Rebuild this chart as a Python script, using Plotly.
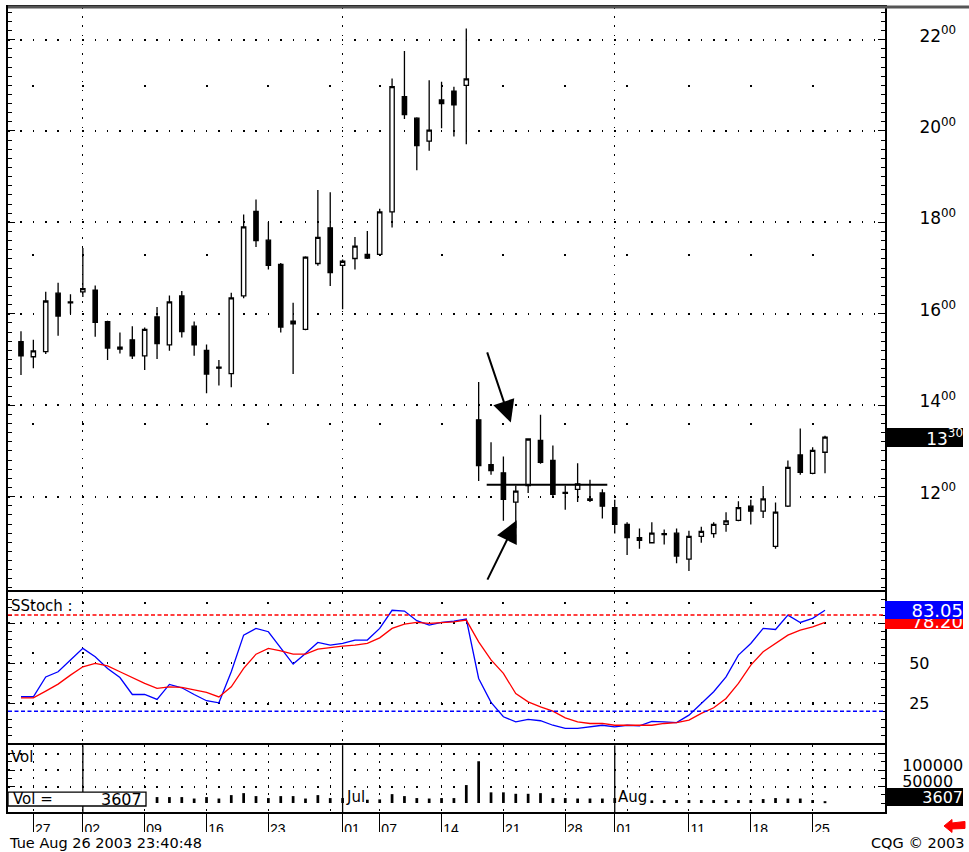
import plotly.graph_objects as go

# ---------------- data ----------------
dates = [
    "2003-05-23", "2003-05-27", "2003-05-28", "2003-05-29", "2003-05-30",
    "2003-06-02", "2003-06-03", "2003-06-04", "2003-06-05", "2003-06-06",
    "2003-06-09", "2003-06-10", "2003-06-11", "2003-06-12", "2003-06-13",
    "2003-06-16", "2003-06-17", "2003-06-18", "2003-06-19", "2003-06-20",
    "2003-06-23", "2003-06-24", "2003-06-25", "2003-06-26", "2003-06-27",
    "2003-06-30", "2003-07-01", "2003-07-02", "2003-07-03", "2003-07-07",
    "2003-07-08", "2003-07-09", "2003-07-10", "2003-07-11", "2003-07-14",
    "2003-07-15", "2003-07-16", "2003-07-17", "2003-07-18", "2003-07-21",
    "2003-07-22", "2003-07-23", "2003-07-24", "2003-07-25", "2003-07-28",
    "2003-07-29", "2003-07-30", "2003-07-31", "2003-08-01", "2003-08-04",
    "2003-08-05", "2003-08-06", "2003-08-07", "2003-08-08", "2003-08-11",
    "2003-08-12", "2003-08-13", "2003-08-14", "2003-08-15", "2003-08-18",
    "2003-08-19", "2003-08-20", "2003-08-21", "2003-08-22", "2003-08-25",
    "2003-08-26",
]
opens = [
    1539, 1506, 1517, 1645, 1626, 1648, 1652, 1583, 1527, 1543,
    1508, 1593, 1532, 1639, 1573, 1520, 1483, 1469, 1639, 1824,
    1761, 1708, 1584, 1566, 1710, 1788, 1706, 1721, 1730, 1730,
    1823, 2075, 2028, 1978, 2068, 2087, 2100, 1368, 1270, 1252,
    1188, 1224, 1323, 1279, 1209, 1216, 1195, 1208, 1176, 1139,
    1110, 1099, 1119, 1120, 1063, 1113, 1119, 1139, 1148, 1179,
    1168, 1091, 1179, 1291, 1251, 1297,
]
highs = [
    1562, 1543, 1648, 1668, 1643, 1744, 1662, 1585, 1559, 1573,
    1570, 1615, 1640, 1650, 1583, 1533, 1499, 1646, 1817, 1850,
    1801, 1711, 1624, 1726, 1871, 1866, 1719, 1768, 1781, 1830,
    2115, 2175, 2030, 2111, 2108, 2097, 2224, 1451, 1319, 1288,
    1224, 1326, 1379, 1312, 1224, 1273, 1237, 1216, 1193, 1144,
    1130, 1144, 1128, 1130, 1125, 1134, 1144, 1166, 1190, 1193,
    1223, 1187, 1279, 1349, 1308, 1333,
]
lows = [
    1466, 1481, 1512, 1552, 1600, 1637, 1550, 1499, 1513, 1501,
    1477, 1501, 1519, 1548, 1508, 1426, 1443, 1439, 1634, 1746,
    1697, 1559, 1468, 1564, 1705, 1661, 1610, 1697, 1720, 1728,
    1789, 2026, 1914, 1957, 2006, 1988, 1971, 1234, 1248, 1147,
    1131, 1208, 1272, 1198, 1171, 1188, 1188, 1152, 1119, 1072,
    1086, 1099, 1095, 1054, 1037, 1099, 1110, 1123, 1146, 1139,
    1153, 1086, 1177, 1248, 1249, 1251,
]
closes = [
    1508, 1519, 1628, 1595, 1624, 1655, 1581, 1525, 1523, 1508,
    1566, 1535, 1626, 1561, 1532, 1468, 1481, 1635, 1790, 1760,
    1706, 1571, 1578, 1724, 1767, 1690, 1715, 1748, 1722, 1823,
    2097, 2036, 1968, 2002, 2060, 2057, 2114, 1268, 1257, 1194,
    1212, 1326, 1275, 1205, 1207, 1228, 1192, 1179, 1139, 1110,
    1104, 1120, 1117, 1070, 1113, 1124, 1139, 1147, 1176, 1168,
    1195, 1166, 1264, 1253, 1301, 1330,
]
volumes = [
    14000, 13000, 15000, 12000, 14000, 16000, 13000, 12000, 14000, 12000,
    13000, 18000, 18000, 18000, 13600, 18000, 13600, 24000, 30000, 21000,
    15000, 21000, 21000, 13600, 24000, 15000, 15000, 11000, 10000, 11000,
    27000, 21000, 15000, 13600, 15000, 15000, 54500, 127000, 32400, 32400,
    28000, 28000, 30000, 15000, 15000, 13600, 13600, 13600, 15000, 11000,
    10000, 8000, 9000, 9000, 9000, 9000, 9000, 9000, 9000, 9000,
    12000, 15000, 13600, 13600, 9000, 3607,
]
stoch_k = [
    29.0, 29.0, 41.4, 44.6, 51.9, 59.2, 54.0, 46.7, 41.0, 30.4,
    30.4, 27.3, 36.7, 34.6, 30.4, 26.5, 25.2, 44.6, 67.5, 71.7,
    69.6, 59.2, 49.4, 56.0, 62.9, 61.2, 62.3, 64.4, 64.4, 71.7,
    83.0, 82.5, 76.5, 73.7, 75.4, 76.2, 77.5, 40.4, 25.5, 16.5,
    13.3, 14.8, 14.0, 11.2, 9.2, 9.2, 10.2, 11.2, 10.2, 11.2,
    10.8, 13.6, 13.3, 12.8, 17.5, 24.8, 32.1, 41.4, 55.0, 62.3,
    71.7, 71.0, 80.0, 75.4, 78.0, 83.05,
]
stoch_d = [
    28.3, 28.3, 32.5, 36.9, 42.5, 47.7, 49.8, 48.3, 44.6, 40.8,
    37.3, 34.2, 35.2, 34.8, 33.1, 31.7, 28.9, 35.2, 46.7, 55.6,
    59.2, 57.7, 55.6, 55.6, 58.8, 59.8, 60.6, 61.2, 62.3, 65.8,
    71.7, 74.4, 75.4, 74.8, 75.4, 75.8, 76.9, 63.3, 52.0, 43.6,
    31.0, 25.8, 22.7, 20.0, 15.8, 13.3, 12.3, 12.3, 11.2, 11.2,
    10.8, 11.2, 12.3, 12.8, 14.4, 18.6, 22.1, 27.9, 37.3, 48.8,
    57.1, 62.3, 67.5, 70.6, 72.7, 75.4,
]
stoch_k_label = "83.05"
stoch_d_label = "78.20"
overbought = 80
oversold = 20

tick_dates = ["2003-05-27", "2003-06-02", "2003-06-09", "2003-06-16", "2003-06-23",
              "2003-07-01", "2003-07-07", "2003-07-14", "2003-07-21", "2003-07-28",
              "2003-08-01", "2003-08-11", "2003-08-18", "2003-08-25"]
tick_labels = ["27", "02", "09", "16", "23", "01", "07", "14", "21", "28", "01", "11", "18", "25"]
week_starts = ["2003-05-27", "2003-06-02", "2003-06-09", "2003-06-16", "2003-06-23",
               "2003-06-30", "2003-07-07", "2003-07-14", "2003-07-21", "2003-07-28",
               "2003-08-04", "2003-08-11", "2003-08-18", "2003-08-25"]
month_starts = ["2003-06-02", "2003-07-01", "2003-08-01"]
month_label_dates = ["2003-07-01", "2003-08-01"]
month_label_text = ["Jul", "Aug"]

price_levels = [1200, 1400, 1600, 1800, 2000, 2200]
stoch_levels = [25, 50, 75]
stoch_labels = ["25", "50", ""]
vol_levels = [50000, 100000, 150000]
vol_labels = ["50000", "100000", ""]

support_level = 1226
support_span = ["2003-07-17", "2003-07-31"]
timestamp_text = "Tue Aug 26 2003 23:40:48"
copyright_text = "CQG © 2003"

# ---------------- helpers ----------------
pos = {d: i for i, d in enumerate(dates)}
idx = list(range(len(dates)))
tick_idx = [pos[d] for d in tick_dates]
week_idx = [pos[d] for d in week_starts]
month_idx = [pos[d] for d in month_starts]

W, H = 969, 852
ML, MR, MT, MB = 8, 84, 5, 40
PW, PH = W - ML - MR, H - MT - MB


def px_x(px):
    return (px - ML) / PW


def px_y(py):
    return (H - MB - py) / PH


def fmt_price(v):
    v = int(round(v))
    return f"{v // 100}<sup>{v % 100:02d}</sup>"


x_range = [-1.05, 69.85]
price_range = [995.5, 2271.3]
stoch_range = [0, 94.4]
vol_range = [-27300, 175700]

FONT = "DejaVu Sans"

fig = go.Figure()

fig.add_trace(go.Candlestick(
    x=idx, open=opens, high=highs, low=lows, close=closes,
    xaxis="x", yaxis="y", whiskerwidth=0,
    increasing=dict(fillcolor="white", line=dict(color="black", width=1.3)),
    decreasing=dict(fillcolor="black", line=dict(color="black", width=1.3)),
    showlegend=False,
))
fig.add_trace(go.Scatter(x=idx, y=stoch_k, mode="lines", xaxis="x2", yaxis="y2",
                         line=dict(color="#0000ff", width=1.3), showlegend=False))
fig.add_trace(go.Scatter(x=idx, y=stoch_d, mode="lines", xaxis="x2", yaxis="y2",
                         line=dict(color="#ff0000", width=1.3), showlegend=False))
fig.add_trace(go.Bar(x=idx, y=volumes, width=0.22, xaxis="x3", yaxis="y3",
                     marker=dict(color="black", line=dict(width=0)), showlegend=False))

common_x = dict(range=x_range, showline=True, mirror=True, linecolor="black",
                linewidth=2, zeroline=False, fixedrange=True)
common_y = dict(side="right", showline=True, mirror="ticks", linecolor="black",
                linewidth=2, zeroline=False, ticks="inside", tickcolor="black",
                tickwidth=1.3, ticklen=7, fixedrange=True, showgrid=True,
                gridcolor="black", gridwidth=1.5, griddash="1.5px,10.87px",
                tickmode="array")

main_dom = [px_y(589.5), 1]
stoch_dom = [px_y(743), px_y(591.5)]
vol_dom = [0, px_y(745)]

fig.update_layout(
    width=W, height=H,
    margin=dict(l=ML, r=MR, t=MT, b=MB, pad=0),
    paper_bgcolor="white", plot_bgcolor="white",
    showlegend=False, boxgap=0.5,
    font=dict(family=FONT, color="black", size=15),
    xaxis=dict(**common_x, anchor="y", domain=[0, 1], rangeslider=dict(visible=False),
               tickmode="array", tickvals=month_idx, showticklabels=False, ticks="",
               showgrid=True, gridcolor="black", gridwidth=1.3, griddash="1.5px,7.7px",
               minor=dict(tickmode="array", tickvals=week_idx, showgrid=True, ticks="",
                          gridcolor="black", gridwidth=2,
                          griddash="0px,77.5px,2px,89.7px")),
    yaxis=dict(**common_y, anchor="x", domain=main_dom, range=price_range,
               tickvals=price_levels, ticktext=[fmt_price(v) for v in price_levels],
               tickfont=dict(size=17), ticklabelstandoff=29, ticklabelshift=-4,
               minor=dict(tickmode="linear", tick0=0, dtick=20, ticks="inside",
                          ticklen=4, tickcolor="black", showgrid=False)),
    xaxis2=dict(**common_x, anchor="y2", domain=[0, 1],
                tickmode="array", tickvals=month_idx, showticklabels=False, ticks="",
                showgrid=True, gridcolor="black", gridwidth=1.3, griddash="1.5px,7.7px",
                minor=dict(tickmode="array", tickvals=week_idx, showgrid=True, ticks="",
                           gridcolor="black", gridwidth=2,
                           griddash="0px,10.1px,2px,38.25px")),
    yaxis2=dict(**common_y, anchor="x2", domain=stoch_dom, range=stoch_range,
                tickvals=stoch_levels, ticktext=stoch_labels,
                tickfont=dict(size=16), ticklabelstandoff=19,
                minor=dict(tickmode="linear", tick0=0, dtick=5, ticks="inside",
                           ticklen=4, tickcolor="black", showgrid=False)),
    xaxis3=dict(**common_x, anchor="y3", domain=[0, 1],
                tickmode="array", tickvals=tick_idx, ticktext=tick_labels,
                ticks="outside", ticklen=20, tickwidth=1.3, tickcolor="black",
                ticklabelposition="outside right", ticklabelstandoff=3,
                tickfont=dict(family="Liberation Sans", size=14),
                showgrid=False,
                minor=dict(tickmode="array", tickvals=week_idx, showgrid=True,
                           ticks="inside", ticklen=0, gridcolor="black",
                           gridwidth=1.3, griddash="1.5px,6.5px")),
    yaxis3=dict(**common_y, anchor="x3", domain=vol_dom, range=vol_range,
                tickvals=vol_levels, ticktext=vol_labels,
                ticklabelshift=-5,
                tickfont=dict(size=16), ticklabelstandoff=12,
                minor=dict(tickmode="linear", tick0=0, dtick=25000, ticks="inside",
                           ticklen=4, tickcolor="black", showgrid=False)),
)

shapes = []
# overbought / oversold
shapes.append(dict(type="line", xref="x2 domain", yref="y2", x0=0, x1=1,
                   y0=overbought, y1=overbought,
                   line=dict(color="#ff0000", width=1.5, dash="4px,2.5px")))
shapes.append(dict(type="line", xref="x2 domain", yref="y2", x0=0, x1=1,
                   y0=oversold, y1=oversold,
                   line=dict(color="#0000ff", width=1.5, dash="4px,2.5px")))
# month separators in volume panel
for m in month_idx:
    shapes.append(dict(type="line", xref="x3", yref="y3 domain", x0=m, x1=m, y0=0, y1=1,
                       layer="below", line=dict(color="black", width=1.3)))
# support line
shapes.append(dict(type="line", xref="x", yref="y",
                   x0=pos[support_span[0]] + 0.65, x1=pos[support_span[1]] + 0.4,
                   y0=support_level, y1=support_level,
                   line=dict(color="black", width=2)))
# top border
shapes.append(dict(type="line", xref="paper", yref="paper", x0=0, x1=px_x(W),
                   y0=1, y1=1, layer="above", line=dict(color="#555555", width=3)))
# Vol = box
shapes.append(dict(type="rect", xref="paper", yref="paper",
                   x0=px_x(8), x1=px_x(146), y0=px_y(806), y1=px_y(792),
                   layer="above", fillcolor="white", line=dict(color="black", width=1.3)))
# clip bottom of date labels
shapes.append(dict(type="rect", xref="paper", yref="paper",
                   x0=px_x(-2), x1=px_x(W + 2), y0=px_y(H + 2), y1=px_y(832),
                   layer="above", fillcolor="white", line=dict(width=0)))
# red arrow icon
arrow_pts = [(944, 826), (952, 819.5), (952, 823), (965, 821.5), (965, 828.5),
             (952, 829), (952, 832.5)]
path = "M " + " L ".join(f"{px_x(a):.5f},{px_y(b):.5f}" for a, b in arrow_pts) + " Z"
shapes.append(dict(type="path", xref="paper", yref="paper", path=path, layer="above",
                   fillcolor="#ff0000", line=dict(color="#ff0000", width=1)))
fig.update_layout(shapes=shapes)

ann = []
ann.append(dict(xref="paper", yref="paper", x=px_x(9), y=px_y(594), xanchor="left",
                yanchor="top", text="SStoch :", showarrow=False, font=dict(size=15)))
ann.append(dict(xref="paper", yref="paper", x=px_x(9), y=px_y(746), xanchor="left",
                yanchor="top", text="Vol", showarrow=False, font=dict(size=15)))
ann.append(dict(xref="paper", yref="paper", x=px_x(11), y=px_y(799), xanchor="left",
                yanchor="middle", text="Vol =", showarrow=False, font=dict(size=15)))
ann.append(dict(xref="paper", yref="paper", x=px_x(144), y=px_y(799), xanchor="right",
                yanchor="middle", text=f"{volumes[-1]}", showarrow=False, font=dict(size=16)))
# last price box
ann.append(dict(xref="paper", yref="y", x=px_x(885), y=closes[-1], xanchor="left",
                yanchor="middle", text=fmt_price(closes[-1]), showarrow=False,
                bgcolor="black", font=dict(color="white", size=17), width=78, height=19,
                align="right", borderpad=0, borderwidth=0))
# stoch value boxes
ann.append(dict(xref="paper", yref="paper", x=px_x(885), y=px_y(621), xanchor="left",
                yanchor="middle", text=stoch_d_label, showarrow=False,
                bgcolor="#ff0000", font=dict(color="white", size=18), width=78, height=16,
                align="right", borderpad=0, borderwidth=0))
ann.append(dict(xref="paper", yref="paper", x=px_x(885), y=px_y(609), xanchor="left",
                yanchor="middle", text=stoch_k_label, showarrow=False,
                bgcolor="#0000ff", font=dict(color="white", size=18), width=78, height=18,
                align="right", borderpad=0, borderwidth=0))
# volume value box
ann.append(dict(xref="paper", yref="paper", x=px_x(885), y=px_y(797), xanchor="left",
                yanchor="middle", text=f"{volumes[-1]}", showarrow=False,
                bgcolor="black", font=dict(color="white", size=16), width=78, height=18,
                align="right", borderpad=0, borderwidth=0))
# month labels
for d, t in zip(month_label_dates, month_label_text):
    ann.append(dict(xref="x3", yref="paper", x=pos[d], y=px_y(807), xanchor="left",
                    yanchor="bottom", xshift=2, text=t, showarrow=False,
                    bgcolor="white", font=dict(size=15), borderpad=0))
# footer texts
ann.append(dict(xref="paper", yref="paper", x=px_x(7), y=px_y(843), xanchor="left",
                yanchor="middle", text=timestamp_text, showarrow=False,
                font=dict(size=14.5)))
ann.append(dict(xref="paper", yref="paper", x=px_x(966), y=px_y(843), xanchor="right",
                yanchor="middle", text=copyright_text, showarrow=False,
                font=dict(size=14.5)))
# pointer arrows
ann.append(dict(xref="x", yref="y", axref="x", ayref="y", x=39.6, y=1362, ax=37.65, ay=1519,
                text="", showarrow=True, arrowhead=2, arrowsize=2.2, arrowwidth=2,
                arrowcolor="black", standoff=0))
ann.append(dict(xref="x", yref="y", axref="x", ayref="y", x=40.07, y=1148, ax=37.65, ay=1015,
                text="", showarrow=True, arrowhead=2, arrowsize=2.2, arrowwidth=2,
                arrowcolor="black", standoff=0))
fig.update_layout(annotations=ann)

fig.write_html("out.html", config={"displayModeBar": False},
               post_script="document.body.style.margin='0';document.body.style.overflow='hidden';")
